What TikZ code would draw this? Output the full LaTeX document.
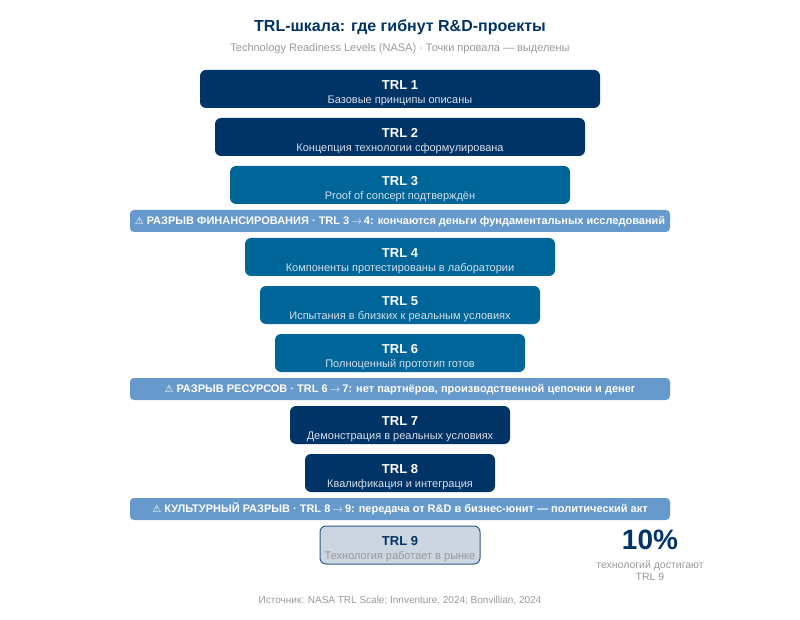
\documentclass[tikz,border=0pt]{standalone}
\usepackage{fontspec}
\setmainfont{Liberation Sans}
\newfontfamily\symfont{DejaVu Sans}
\usetikzlibrary{positioning}
\definecolor{navy}{HTML}{003366}
\definecolor{trlmid}{HTML}{006699}
\definecolor{gapblue}{HTML}{6699CC}
\definecolor{lastfill}{HTML}{CCD6E0}
\definecolor{lastline}{HTML}{2E5A87}
\definecolor{muted}{HTML}{999999}
\definecolor{trlsub}{HTML}{D5DFEA}
\newcommand{\warn}{{\symfont\fontsize{10}{12}\selectfont ⚠}}
\newcommand{\goes}{\,$\rightarrow$\,}
\newcommand{\trltext}[3]{\rule{0pt}{17.5pt}#1\\[-0.5pt]{\fontsize{11}{12}\selectfont\mdseries\color{#3}#2}}

\begin{document}
\begin{tikzpicture}[
x=1pt, y=-1pt,
node distance=10pt,
trlbox/.style={rounded corners=6pt, align=center, minimum height=38pt, inner sep=0pt, outer sep=0pt, text=white, font=\fontsize{13}{14}\selectfont\bfseries},
early/.style={trlbox, fill=navy},
mid/.style={trlbox, fill=trlmid},
gapbar/.style={rounded corners=4pt, fill=gapblue, minimum width=540pt, minimum height=22pt, inner sep=0pt, outer sep=0pt, text height=8pt, text depth=0.5pt, text=white, font=\fontsize{11}{12}\selectfont\bfseries},
sub/.style={font=\fontsize{10.5}{12}\selectfont}
]
\useasboundingbox (0,0) rectangle (800,620);
\node[font=\fontsize{16}{19}\selectfont\bfseries, text=navy] (title) at (400,27) {TRL-шкала: где гибнут R\&D-проекты};
\node[font=\fontsize{11}{13}\selectfont, text=muted] (subtitle) at (400,49) {Technology Readiness Levels (NASA) · Точки провала — выделены};

\node[early, minimum width=400pt] (t1) at (400,89) {\trltext{TRL 1}{Базовые принципы описаны}{trlsub}};
\node[early, minimum width=370pt, below=of t1] (t2) {\trltext{TRL 2}{Концепция технологии сформулирована}{trlsub}};
\node[mid, minimum width=340pt, below=of t2] (t3) {\trltext{TRL 3}{Proof of concept подтверждён}{trlsub}};
\node[gapbar, below=6pt of t3] (gap1) {\warn\ РАЗРЫВ ФИНАНСИРОВАНИЯ · TRL 3\goes4: кончаются деньги фундаментальных исследований};
\node[mid, minimum width=310pt, below=6pt of gap1] (t4) {\trltext{TRL 4}{Компоненты протестированы в лаборатории}{trlsub}};
\node[mid, minimum width=280pt, below=of t4] (t5) {\trltext{TRL 5}{Испытания в близких к реальным условиях}{trlsub}};
\node[mid, minimum width=250pt, below=of t5] (t6) {\trltext{TRL 6}{Полноценный прототип готов}{trlsub}};
\node[gapbar, below=6pt of t6] (gap2) {\warn\ РАЗРЫВ РЕСУРСОВ · TRL 6\goes7: нет партнёров, производственной цепочки и денег};
\node[early, minimum width=220pt, below=6pt of gap2] (t7) {\trltext{TRL 7}{Демонстрация в реальных условиях}{trlsub}};
\node[early, minimum width=190pt, below=of t7] (t8) {\trltext{TRL 8}{Квалификация и интеграция}{trlsub}};
\node[gapbar, below=6pt of t8] (gap3) {\warn\ КУЛЬТУРНЫЙ РАЗРЫВ · TRL 8\goes9: передача от R\&D в бизнес-юнит — политический акт};
\node[trlbox, minimum width=160pt, fill=lastfill, draw=lastline, line width=1pt, text=navy, below=6pt of gap3] (t9) {\trltext{TRL 9}{Технология работает в рынке}{muted}};

\node[font=\fontsize{28}{30}\selectfont\bfseries, text=navy] (share) at (650,540) {10\%};
\node[sub, text=muted, align=center] (sharenote) at (650,571) {технологий достигают\\TRL 9};
\node[font=\fontsize{10}{12}\selectfont, text=muted] (source) at (400,601) {Источник: NASA TRL Scale; Innventure, 2024; Bonvillian, 2024};
\end{tikzpicture}
\end{document}
